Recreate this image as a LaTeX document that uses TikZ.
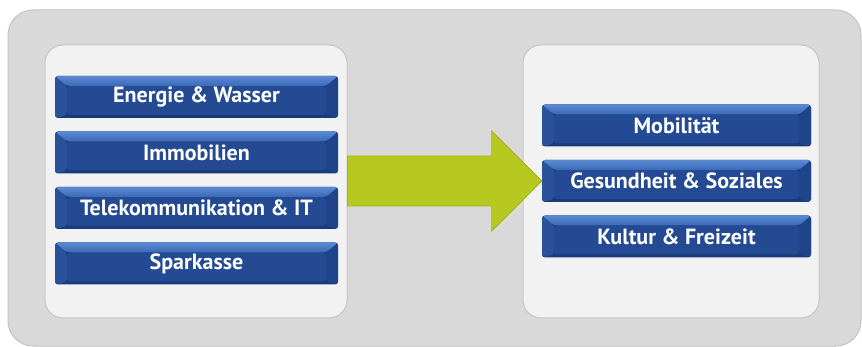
\documentclass[tikz,border=0pt]{standalone}
\usepackage{fontspec}
\setmainfont{PT Sans}
\usetikzlibrary{calc}
\definecolor{outerbg}{HTML}{D9D9D9}
\definecolor{outerln}{HTML}{C4C4C4}
\definecolor{innerbg}{HTML}{F2F2F2}
\definecolor{innerln}{HTML}{C6C6C6}
\definecolor{btnface}{HTML}{234A92}
\definecolor{btnleft}{HTML}{29529A}
\definecolor{btnright}{HTML}{1F4489}
\definecolor{btnbot}{HTML}{1A3A78}
\definecolor{btntopA}{HTML}{5A8AD2}
\definecolor{btntopM}{HTML}{C4DAF6}
\definecolor{btntopB}{HTML}{3A69B8}
\definecolor{arrowgreen}{HTML}{B7C920}
\definecolor{arrowline}{HTML}{A2B41B}
\tikzset{
  outerpanel/.style={draw=outerln, fill=outerbg, rounded corners=25pt, line width=1pt, minimum width=853pt, minimum height=336pt, inner sep=0pt},
  panel/.style={draw=innerln, fill=innerbg, rounded corners=18pt, line width=1pt, minimum height=273pt, inner sep=0pt},
  btn/.style={rounded corners=3pt, fill=btnbot, minimum height=42pt, inner sep=0pt,
    text=white, font=\bfseries\fontsize{22}{26}\selectfont,
    path picture={
      \coordinate (pNW) at (path picture bounding box.north west);
      \coordinate (pNE) at (path picture bounding box.north east);
      \coordinate (pSW) at (path picture bounding box.south west);
      \coordinate (pSE) at (path picture bounding box.south east);
      \fill[btnleft] (pNW) -- ($(pNW)+(12pt,-10pt)$) -- ($(pSW)+(12pt,3pt)$) -- (pSW) -- cycle;
      \fill[btnright] (pNE) -- ($(pNE)+(-12pt,-10pt)$) -- ($(pSE)+(-12pt,3pt)$) -- (pSE) -- cycle;
      \fill[btnface] ($(pNW)+(12pt,-10pt)$) rectangle ($(pSE)+(-12pt,3pt)$);
      \shade[top color=btntopA, middle color=btntopM, bottom color=btntopB]
        (pNW) -- (pNE) -- ($(pNE)+(-12pt,-10pt)$) -- ($(pNW)+(12pt,-10pt)$) -- cycle;
    }},
  leftbtn/.style={btn, minimum width=283pt},
  rightbtn/.style={btn, minimum width=269pt},
  bigarrow/.style={fill=arrowgreen, draw=arrowline, line width=0.8pt, line join=miter},
}
\begin{document}
\begin{tikzpicture}[x=1pt,y=-1pt]
\useasboundingbox (0,0) rectangle (862,347);
\node[outerpanel] (outer) at (434.5,178) {};
\node[panel, minimum width=302pt] (lp) at (196,181.5) {};
\node[panel, minimum width=296pt] (rp) at (671,181.5) {};
% right buttons (needed for arrow tip)
\node[rightbtn] (mob) at (676.5,125.5) {Mobilität};
\node[rightbtn] (gs) at (676.5,181) {Gesundheit \& Soziales};
\node[rightbtn] (kf) at (676.5,236.5) {Kultur \& Freizeit};
% arrow
\coordinate (tail) at (lp.east |- gs.west);
\coordinate (tip) at (gs.west);
\draw[bigarrow] ($(tail)+(0,25pt)$) -- ($(tip)+(-50pt,25pt)$) -- ($(tip)+(-50pt,50pt)$) -- (tip)
  -- ($(tip)+(-50pt,-50pt)$) -- ($(tip)+(-50pt,-25pt)$) -- ($(tail)+(0,-25pt)$) -- cycle;
% left buttons
\node[leftbtn] (ew) at (196.5,97) {Energie \& Wasser};
\node[leftbtn] (im) at (196.5,152.5) {Immobilien};
\node[leftbtn] (tk) at (196.5,208) {Telekommunikation \& IT};
\node[leftbtn] (sp) at (196.5,263.5) {Sparkasse};
\end{tikzpicture}
\end{document}
